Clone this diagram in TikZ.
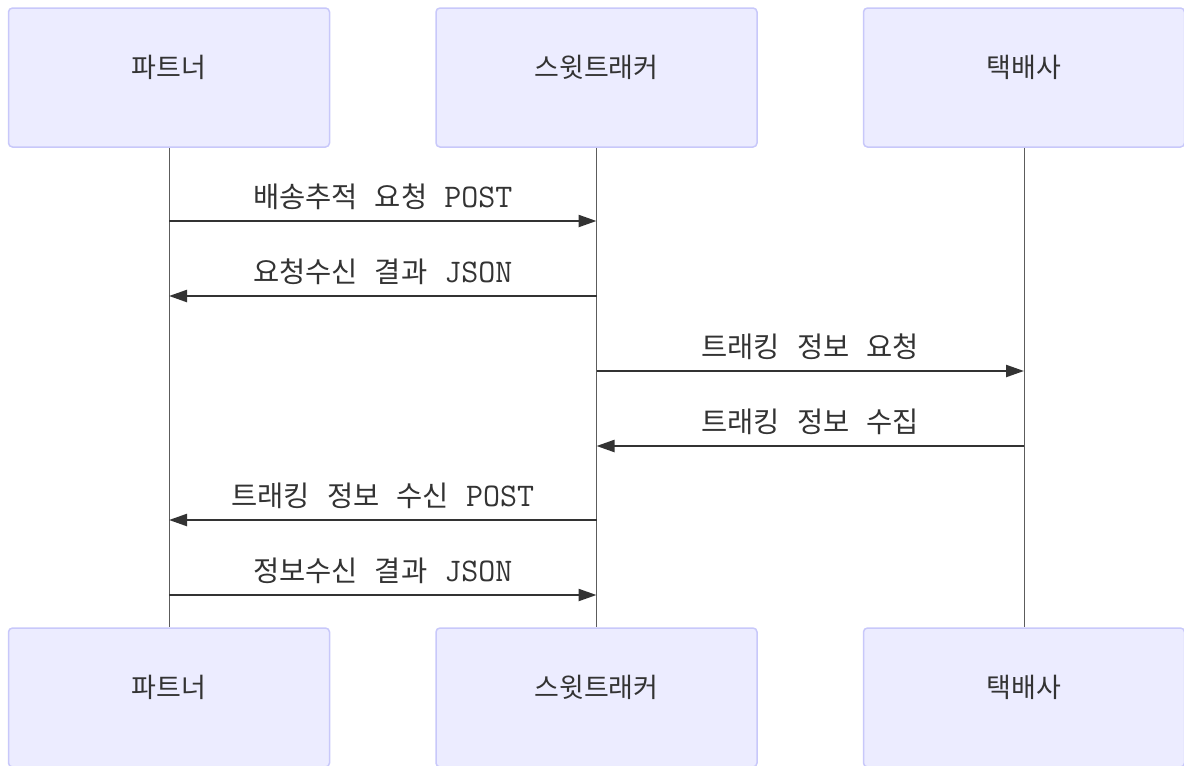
\documentclass[tikz,border=0pt]{standalone}
\usepackage{fontspec}
\newfontfamily\kr{Noto Sans CJK KR}
\usetikzlibrary{arrows.meta}
\definecolor{actorfill}{HTML}{ECECFF}
\definecolor{actorline}{HTML}{C8C8FA}
\definecolor{ink}{HTML}{333333}
\newcommand{\hg}[1]{{\kr\fontsize{28.5}{32}\selectfont #1}}
\tikzset{
  actor/.style={draw=actorline, line width=1.5pt, fill=actorfill, rounded corners=4pt,
    minimum width=321pt, minimum height=139pt, inner sep=0pt},
  actorlabel/.style={text=ink, inner sep=0pt, font=\kr\fontsize{27}{32}\selectfont},
  lifeline/.style={draw=ink!80, line width=0.8pt},
  msg/.style={draw=ink, line width=2.3pt, -{Triangle[length=18pt,width=12pt]}},
  msglabel/.style={midway, yshift=24pt, inner sep=0pt, text=ink, font=\ttfamily\fontsize{33}{38}\selectfont}
}
\begin{document}
\begin{tikzpicture}[x=1pt, y=-1pt]
    \useasboundingbox (0,0) rectangle (1184,766);

    % participants, top row
    \node [actor] (pTop) at (169,77.5) {};
    \node [actor] (sTop) at (596.5,77.5) {};
    \node [actor] (cTop) at (1024,77.5) {};
    \node [actorlabel] (pTopT) at ([yshift=10pt]pTop.center) {파트너};
    \node [actorlabel] (sTopT) at ([yshift=10pt]sTop.center) {스윗트래커};
    \node [actorlabel] (cTopT) at ([yshift=10pt]cTop.center) {택배사};

    % participants, bottom row
    \node [actor] (pBot) at (169,697.5) {};
    \node [actor] (sBot) at (596.5,697.5) {};
    \node [actor] (cBot) at (1024,697.5) {};
    \node [actorlabel] (pBotT) at ([yshift=10pt]pBot.center) {파트너};
    \node [actorlabel] (sBotT) at ([yshift=10pt]sBot.center) {스윗트래커};
    \node [actorlabel] (cBotT) at ([yshift=10pt]cBot.center) {택배사};

    % lifelines
    \draw [lifeline] (pTop.south) -- (pBot.north);
    \draw [lifeline] (sTop.south) -- (sBot.north);
    \draw [lifeline] (cTop.south) -- (cBot.north);

    % message points on the lifelines
    \coordinate (p1) at (pTop.south |- 0,221);
    \coordinate (s1) at (sTop.south |- 0,221);
    \coordinate (p2) at (pTop.south |- 0,296);
    \coordinate (s2) at (sTop.south |- 0,296);
    \coordinate (s3) at (sTop.south |- 0,371);
    \coordinate (c3) at (cTop.south |- 0,371);
    \coordinate (s4) at (sTop.south |- 0,446);
    \coordinate (c4) at (cTop.south |- 0,446);
    \coordinate (p5) at (pTop.south |- 0,520);
    \coordinate (s5) at (sTop.south |- 0,520);
    \coordinate (p6) at (pTop.south |- 0,595);
    \coordinate (s6) at (sTop.south |- 0,595);

    % messages
    \draw [msg] (p1) -- (s1) node [msglabel] {\hg{배송추적} \hg{요청} POST};
    \draw [msg] (s2) -- (p2) node [msglabel] {\hg{요청수신} \hg{결과} JSON};
    \draw [msg] (s3) -- (c3) node [msglabel] {\hg{트래킹} \hg{정보} \hg{요청}};
    \draw [msg] (c4) -- (s4) node [msglabel] {\hg{트래킹} \hg{정보} \hg{수집}};
    \draw [msg] (s5) -- (p5) node [msglabel] {\hg{트래킹} \hg{정보} \hg{수신} POST};
    \draw [msg] (p6) -- (s6) node [msglabel] {\hg{정보수신} \hg{결과} JSON};
\end{tikzpicture}
\end{document}
